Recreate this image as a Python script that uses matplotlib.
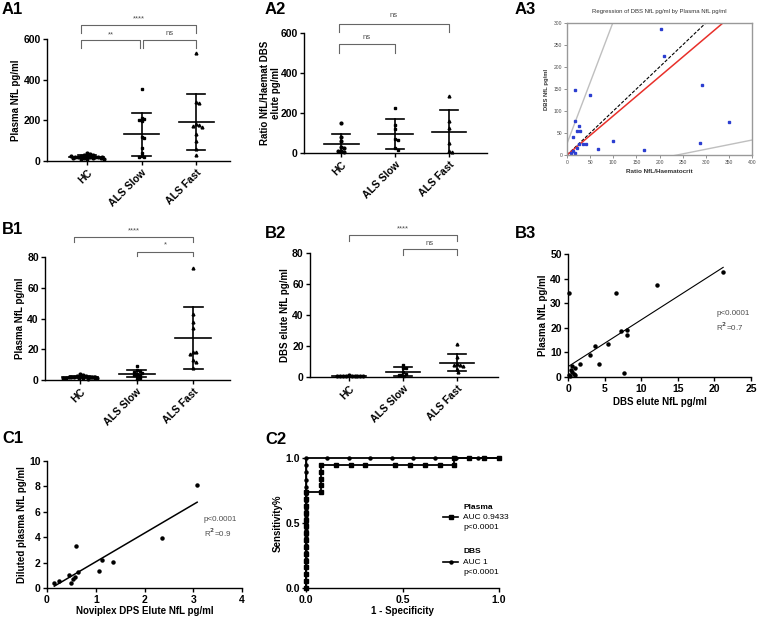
import numpy as np
import matplotlib.pyplot as plt

plt.rcParams['font.family'] = ['Liberation Sans', 'DejaVu Sans']
plt.rcParams['font.weight'] = 'bold'
plt.rcParams['axes.labelweight'] = 'bold'
plt.rcParams['axes.linewidth'] = 1.0
plt.rcParams['xtick.major.width'] = 1.0
plt.rcParams['ytick.major.width'] = 1.0
plt.rcParams['xtick.major.size'] = 3
plt.rcParams['ytick.major.size'] = 3
plt.rcParams['xtick.major.pad'] = 2
plt.rcParams['ytick.major.pad'] = 1.5
plt.rcParams['xtick.labelsize'] = 7.5
plt.rcParams['ytick.labelsize'] = 7.5
plt.rcParams['axes.labelsize'] = 7
plt.rcParams['axes.labelpad'] = 1.5

W, H = 758, 621

groups = ['HC', 'ALS Slow', 'ALS Fast']
markers = ['o', 's', '^']

# A1 plasma NfL (pg/ml)
a1_hc = [40, 35, 30, 28, 25, 24, 22, 21, 20, 19, 18, 17, 15, 15, 14, 12, 10, 10, 25, 22]
a1_slow = [355, 212, 207, 202, 198, 118, 112, 65, 40, 25, 22, 20]
a1_fast = [530, 290, 285, 180, 175, 172, 168, 135, 100, 60, 30]

# A2 ratio NfL / haematocrit, DBS elute
a2_hc = [148, 80, 58, 30, 25, 8, 5, 10]
a2_slow = [225, 140, 120, 70, 65, 25, 15]
a2_fast = [285, 160, 125, 50, 12, 5]

# A3 regression of DBS NfL by plasma NfL
a3_x = [204, 209, 292, 17, 49, 351, 17, 26, 21, 29, 12, 100, 288, 25, 42, 35, 66, 167, 14, 9, 17, 22]
a3_y = [286, 224, 160, 147, 136, 76, 77, 66, 55, 54, 40, 32, 28, 26, 26, 24, 14, 11, 10, 5, 5, 15]
a3_fit = (0.89, 0.0)        # slope, intercept (red)
a3_identity = (1.0, 0.0)    # dashed
a3_upper = (2.77, 26.0)     # grey bounds
a3_lower = (0.21, -50.0)

# B1 plasma NfL (pg/ml)
b1_hc = [4.2, 3.0, 2.8, 2.5, 2.3, 2.2, 2.0, 2.0, 1.9, 1.8, 1.7, 1.6, 1.5, 1.5, 1.4, 1.2, 1.0, 0.8, 2.1, 1.8]
b1_slow = [9.0, 6.2, 5.8, 5.2, 4.8, 4.2, 3.5, 3.0, 2.5, 1.5, 0.8]
b1_fast = [73, 43, 38, 34, 18, 18, 17, 13, 12, 8]

# B2 DBS elute NfL (pg/ml)
b2_hc = [1.0, 0.9, 0.8, 0.8, 0.7, 0.6, 0.6, 0.5, 0.5, 0.4]
b2_slow = [8.0, 6.0, 5.5, 3.0, 2.0, 1.5, 1.0, 0.5]
b2_fast = [21, 13, 8.5, 8.0, 7.5, 7.0, 5.0, 3.5]

# B3 plasma vs DBS elute
b3_x = [0.2, 21.2, 12.2, 6.5, 7.2, 8.0, 8.0, 5.5, 3.7, 3.0, 4.3, 1.6, 1.0, 0.5, 0.4, 0.6, 0.8, 7.7, 0.1, 0.3, 0.9]
b3_y = [34.1, 42.7, 37.6, 34.0, 18.6, 19.0, 17.0, 13.5, 12.6, 9.1, 5.3, 5.2, 3.8, 4.5, 2.7, 1.9, 1.4, 1.6, 0.7, 0.4, 0.8]

# C1 diluted plasma vs Noviplex DPS elute
c1_x = [3.08, 2.35, 0.60, 1.35, 1.13, 1.07, 0.64, 0.46, 0.57, 0.53, 0.50, 0.24, 0.15]
c1_y = [8.08, 3.95, 3.34, 2.03, 2.18, 1.34, 1.24, 1.03, 0.84, 0.68, 0.39, 0.58, 0.39]

# C2 ROC curves
plasma_fpr = [0, 0, 0, 0, 0, 0, 0, 0, 0, 0, 0, 0, 0, 0, 0,
              0.077, 0.077, 0.077, 0.077, 0.077,
              0.154, 0.231, 0.308, 0.462, 0.538, 0.615, 0.692, 0.769,
              0.769, 0.846, 0.923, 1.0]
plasma_tpr = [0, 0.053, 0.105, 0.158, 0.211, 0.263, 0.316, 0.368, 0.421, 0.474,
              0.526, 0.579, 0.632, 0.684, 0.737,
              0.737, 0.789, 0.842, 0.895, 0.947,
              0.947, 0.947, 0.947, 0.947, 0.947, 0.947, 0.947, 0.947,
              1.0, 1.0, 1.0, 1.0]
dbs_fpr = [0] * 19 + [0.111, 0.222, 0.333, 0.444, 0.556, 0.667, 0.778, 0.889, 1.0]
dbs_tpr = [0, 0.056, 0.111, 0.167, 0.222, 0.278, 0.333, 0.389, 0.444, 0.5,
           0.556, 0.611, 0.667, 0.722, 0.778, 0.833, 0.889, 0.944, 1.0,
           1.0, 1.0, 1.0, 1.0, 1.0, 1.0, 1.0, 1.0, 1.0]

fig = plt.figure(figsize=(W / 100, H / 100), dpi=100)


def box(l, t, r, b):
    ax = fig.add_axes([l / W, 1 - b / H, (r - l) / W, (b - t) / H])
    return ax


def prism(ax):
    ax.spines['top'].set_visible(False)
    ax.spines['right'].set_visible(False)


def swarm(vals, ax, size=2.6, maxw=18):
    # spread overlapping points sideways, like a scatter dot plot
    bb = ax.get_position()
    x0, x1 = ax.get_xlim()
    y0, y1 = ax.get_ylim()
    xpp = bb.width * W / (x1 - x0)
    ypp = bb.height * H / (y1 - y0)
    placed, offs = [], []
    step = size * 0.55
    for v in vals:
        y = v * ypp
        k = 0
        found = None
        while found is None:
            cands = [0.0] if k == 0 else [k * step, -k * step]
            for c in cands:
                if abs(c) > maxw:
                    found = cands[0] * ((len(placed) % 5) / 5.0)
                    break
                if all((c - px) ** 2 + (y - py) ** 2 >= size ** 2 for px, py in placed):
                    found = c
                    break
            k += 1
        placed.append((found, y))
        offs.append(found / xpp)
    return np.array(offs)


def dotplot(ax, data, xlim, ylim, yticks, ylabel):
    prism(ax)
    ax.set_xlim(*xlim)
    ax.set_ylim(*ylim)
    for i, (vals, m) in enumerate(zip(data, markers)):
        vals = np.asarray(vals, float)
        offs = swarm(vals, ax)
        ax.plot(i + offs, vals, m, color='k', ms=2.0, ls='none', clip_on=False, zorder=3)
        mu, sd = vals.mean(), vals.std(ddof=1)
        ax.plot([i - 0.32, i + 0.32], [mu, mu], color='k', lw=1.2)
        ax.plot([i, i], [max(mu - sd, ylim[0]), mu + sd], color='k', lw=1.2)
        for e in (mu - sd, mu + sd):
            if e >= ylim[0]:
                ax.plot([i - 0.17, i + 0.17], [e, e], color='k', lw=1.2)
    ax.set_xticks(range(len(groups)))
    ax.set_xticklabels(groups, rotation=45, ha='right', rotation_mode='anchor')
    ax.set_yticks(yticks)
    ax.set_ylabel(ylabel)


def bracket(ax, i, j, y, leg, text, ty):
    ax.plot([i, i, j, j], [y - leg, y, y, y - leg], color='0.4', lw=0.8, clip_on=False)
    ax.text((i + j) / 2, ty, text, ha='center', va='center', fontsize=5.5,
            fontweight='normal', color='0.3', clip_on=False)


# ---- A1
ax = box(47, 39, 230, 161)
dotplot(ax, [a1_hc, a1_slow, a1_fast], (-0.73, 2.62), (0, 600), [0, 200, 400, 600],
        'Plasma NfL pg/ml')
bracket(ax, -0.1, 2, 669, 40, '****', 700)
bracket(ax, -0.1, 0.97, 595, 40, '**', 622)
bracket(ax, 1.03, 2, 595, 40, 'ns', 625)

# ---- A2
ax = box(304, 33, 487, 153)
dotplot(ax, [a2_hc, a2_slow, a2_fast], (-0.69, 2.7), (0, 600), [0, 200, 400, 600],
        'Ratio NfL/Haemat DBS\nelute pg/ml')
ax.yaxis.set_label_coords(-0.125, 0.5)
bracket(ax, -0.05, 2, 645, 40, 'ns', 688)
bracket(ax, -0.05, 1, 545, 45, 'ns', 578)

# ---- A3 (spreadsheet style regression)
ax = box(567, 23, 752, 155)
for s in ax.spines.values():
    s.set_color('0.6')
ax.set_xlim(0, 400)
ax.set_ylim(0, 300)
xs = np.linspace(0, 400, 200)
ax.plot(xs, a3_upper[0] * xs + a3_upper[1], color='0.75', lw=1.0)
ax.plot(xs, a3_lower[0] * xs + a3_lower[1], color='0.75', lw=1.0)
ax.plot(xs, a3_identity[0] * xs + a3_identity[1], color='k', lw=0.8, ls=(0, (3, 1.5)))
ax.plot(xs, a3_fit[0] * xs + a3_fit[1], color='#e8302a', lw=1.1)
ax.plot(a3_x, a3_y, 's', color='#2c3ed0', ms=1.6, ls='none')
ax.set_xticks(range(0, 401, 50))
ax.set_yticks(range(0, 301, 50))
ax.tick_params(labelsize=3.6, length=2, width=0.6, color='0.5', labelcolor='0.3', pad=1.5)
for t in ax.get_xticklabels() + ax.get_yticklabels():
    t.set_fontweight('normal')
ax.set_xlabel('Ratio NfL/Haematocrit', fontsize=4.6, labelpad=3, color='0.2')
ax.set_ylabel('DBS NfL pg/ml', fontsize=4.2, labelpad=3, color='0.2')
ax.set_title('Regression of DBS NfL pg/ml by Plasma NfL pg/ml', fontsize=4.3, pad=7, color='0.2')

# ---- B1
ax = box(45, 257, 230, 380)
dotplot(ax, [b1_hc, b1_slow, b1_fast], (-0.62, 2.65), (0, 80), [0, 20, 40, 60, 80],
        'Plasma NfL pg/ml')
bracket(ax, -0.1, 2, 93, 3.2, '****', 97)
bracket(ax, 1, 2, 83.3, 2.7, '*', 88)

# ---- B2
ax = box(310, 253, 498, 377)
dotplot(ax, [b2_hc, b2_slow, b2_fast], (-0.72, 2.76), (0, 80), [0, 20, 40, 60, 80],
        'DBS elute NfL pg/ml')
bracket(ax, 0, 2, 91.6, 3.9, '****', 95.5)
bracket(ax, 1, 2, 82.6, 3.9, 'ns', 86)

# ---- B3
ax = box(568, 254, 751, 377)
prism(ax)
ax.plot(b3_x, b3_y, 'o', color='k', ms=2.2, ls='none', clip_on=False, zorder=3)
k, c = np.polyfit(b3_x, b3_y, 1)
xl = np.array([min(b3_x), max(b3_x)])
ax.plot(xl, k * xl + c, color='k', lw=0.8)
ax.set_xlim(0, 25)
ax.set_ylim(0, 50)
ax.set_xticks(range(0, 26, 5))
ax.set_yticks(range(0, 51, 10))
ax.set_xlabel('DBS elute NfL pg/ml', labelpad=2)
ax.set_ylabel('Plasma NfL pg/ml')
ax.text(0.81, 0.45, 'p<0.0001\nR$^2$=0.7', transform=ax.transAxes, fontsize=5.8,
        fontweight='normal', color='0.3', va='center', linespacing=1.3)

# ---- C1
ax = box(47, 461, 242, 588)
prism(ax)
ax.plot(c1_x, c1_y, 'o', color='k', ms=2.2, ls='none', clip_on=False, zorder=3)
k, c = np.polyfit(c1_x, c1_y, 1)
xl = np.array([min(c1_x), max(c1_x)])
ax.plot(xl, k * xl + c, color='k', lw=1.1)
ax.set_xlim(0, 4)
ax.set_ylim(0, 10)
ax.set_xticks(range(0, 5))
ax.set_yticks(range(0, 11, 2))
ax.set_xlabel('Noviplex DPS Elute NfL pg/ml', labelpad=1)
ax.set_ylabel('Diluted plasma NfL pg/ml')
ax.text(0.805, 0.476, 'p<0.0001\nR$^2$=0.9', transform=ax.transAxes, fontsize=5.8,
        fontweight='normal', color='0.3', va='center', linespacing=1.3)

# ---- C2
ax = box(306, 458, 499, 588)
prism(ax)
ax.plot(dbs_fpr, dbs_tpr, '-o', color='k', ms=2.2, lw=1.3, clip_on=False, zorder=3)
ax.plot(plasma_fpr, plasma_tpr, '-s', color='k', ms=2.8, lw=1.3, clip_on=False, zorder=4)
ax.set_xlim(0, 1)
ax.set_ylim(0, 1)
ax.set_xticks([0, 0.5, 1.0])
ax.set_yticks([0, 0.5, 1.0])
ax.set_xticklabels(['0.0', '0.5', '1.0'])
ax.set_yticklabels(['0.0', '0.5', '1.0'])
ax.set_xlabel('1 - Specificity', labelpad=1)
ax.set_ylabel('Sensitivity%')
for yy, mk, ms, name, auc in [(0.546, 's', 2.8, 'Plasma', 'AUC 0.9433'),
                              (0.2, 'o', 2.2, 'DBS', 'AUC 1')]:
    ax.plot([0.71, 0.79], [yy, yy], color='k', lw=1.2, transform=ax.transAxes, clip_on=False)
    ax.plot([0.75], [yy], mk, color='k', ms=ms, transform=ax.transAxes, clip_on=False)
    ax.text(0.815, yy + 0.077, name, transform=ax.transAxes, fontsize=6, va='center')
    ax.text(0.815, yy, auc, transform=ax.transAxes, fontsize=6, fontweight='normal', va='center')
    ax.text(0.815, yy - 0.077, 'p<0.0001', transform=ax.transAxes, fontsize=6,
            fontweight='normal', va='center')

# ---- panel letters
for lab, x, y in [('A1', 2, 2), ('A2', 265, 2), ('A3', 515, 2),
                  ('B1', 2, 222), ('B2', 265, 226), ('B3', 515, 226),
                  ('C1', 2, 431), ('C2', 265, 432)]:
    fig.text(x / W, 1 - y / H, lab, fontsize=12, fontweight='bold', va='top', ha='left')

fig.savefig('out.png', dpi=100)
